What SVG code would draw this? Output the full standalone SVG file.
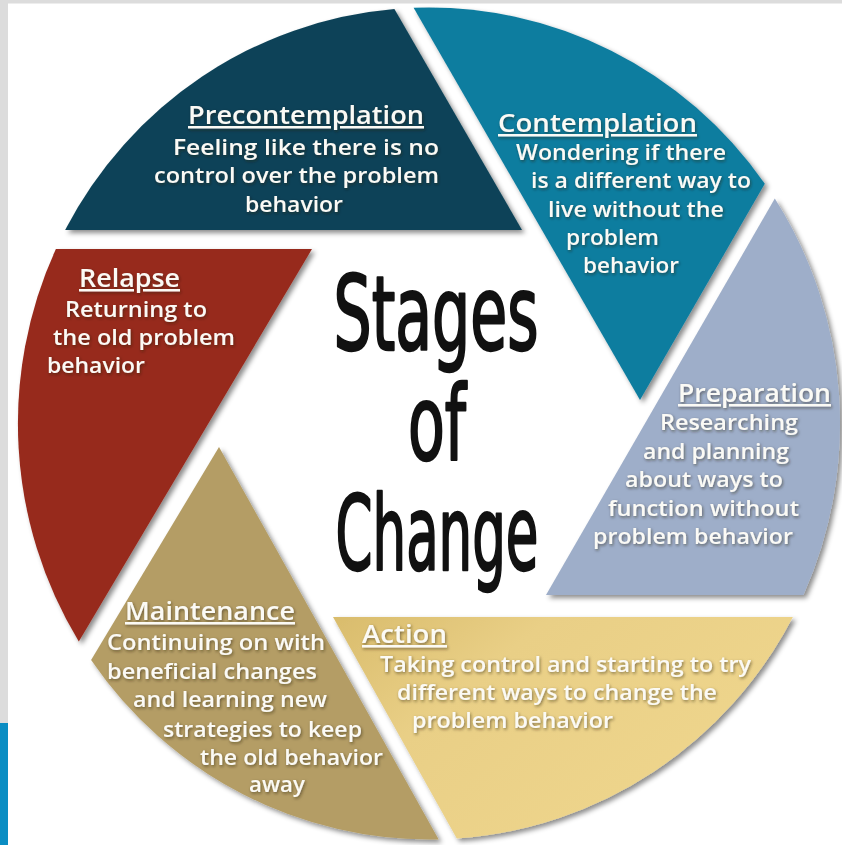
<svg xmlns="http://www.w3.org/2000/svg" width="842" height="845" viewBox="0 0 842 845">
  <defs>
    <style>
      .seg { filter: url(#segShadow); }
      .lbl { font-family: "Open Sans", Lato, "DejaVu Sans", sans-serif; font-weight: 600; fill: #fbfaf5; filter: url(#txtShadow); }
      .head { font-size: 25px; text-decoration: underline; }
      .body { font-size: 22px; }
      .title { font-family: "DejaVu Sans Condensed", "DejaVu Sans", sans-serif; font-weight: 400; font-size: 103px; fill: #111; stroke: #111; stroke-width: 2.4; stroke-linejoin: round; text-anchor: middle; }
    </style>
    <filter id="segShadow" x="-10%" y="-10%" width="125%" height="125%">
      <feDropShadow dx="3" dy="3" stdDeviation="2.5" flood-color="#000" flood-opacity="0.45"/>
    </filter>
    <filter id="txtShadow" x="-10%" y="-30%" width="120%" height="160%">
      <feDropShadow dx="1" dy="1.5" stdDeviation="1.5" flood-color="#2a2410" flood-opacity="0.55"/>
    </filter>
    <linearGradient id="actionFill" x1="0" y1="0" x2="1" y2="0.6">
      <stop offset="0" stop-color="#d9bc6c"/>
      <stop offset="0.35" stop-color="#e9cf86"/>
      <stop offset="1" stop-color="#efd68d"/>
    </linearGradient>
  </defs>

  <!-- page frame -->
  <rect x="0" y="0" width="842" height="845" fill="#ffffff"/>
  <rect x="0" y="0" width="842" height="3.5" fill="#dcdcdc"/>
  <rect x="0" y="0" width="8" height="723" fill="#dcdcdc"/>
  <rect x="0" y="723" width="8" height="122" fill="#0a8dc3"/>

  <!-- Precontemplation -->
  <g id="precontemplation">
    <path class="seg" fill="#0d4358" d="M65.1,230 L522,230 L394.4,9 A411,416 0 0 0 65.1,230 Z"/>
    <text class="lbl head" x="188" y="124" textLength="236" lengthAdjust="spacingAndGlyphs">Precontemplation</text>
    <text class="lbl body" x="173" y="155" textLength="266" lengthAdjust="spacingAndGlyphs">Feeling like there is no</text>
    <text class="lbl body" x="154" y="183" textLength="285" lengthAdjust="spacingAndGlyphs">control over the problem</text>
    <text class="lbl body" x="245" y="212" textLength="98" lengthAdjust="spacingAndGlyphs">behavior</text>
  </g>

  <!-- Contemplation -->
  <g id="contemplation">
    <path class="seg" fill="#117d9f" d="M413.6,7.8 L640,399.9 L764.8,183.8 A411,416 0 0 0 413.6,7.8 Z"/>
    <text class="lbl head" x="498" y="132" textLength="199" lengthAdjust="spacingAndGlyphs">Contemplation</text>
    <text class="lbl body" x="516" y="160" textLength="210" lengthAdjust="spacingAndGlyphs">Wondering if there</text>
    <text class="lbl body" x="531" y="188" textLength="220" lengthAdjust="spacingAndGlyphs">is a different way to</text>
    <text class="lbl body" x="548" y="217" textLength="176" lengthAdjust="spacingAndGlyphs">live without the</text>
    <text class="lbl body" x="566" y="245" textLength="93" lengthAdjust="spacingAndGlyphs">problem</text>
    <text class="lbl body" x="583" y="273" textLength="96" lengthAdjust="spacingAndGlyphs">behavior</text>
  </g>

  <!-- Preparation -->
  <g id="preparation">
    <path class="seg" fill="#9eaec9" d="M774.8,198.5 L546,595 L803.4,595 A411,416 0 0 0 774.8,198.5 Z"/>
    <text class="lbl head" x="678" y="402" textLength="153" lengthAdjust="spacingAndGlyphs">Preparation</text>
    <text class="lbl body" x="660" y="430" textLength="138" lengthAdjust="spacingAndGlyphs">Researching</text>
    <text class="lbl body" x="643" y="459" textLength="146" lengthAdjust="spacingAndGlyphs">and planning</text>
    <text class="lbl body" x="625" y="487" textLength="158" lengthAdjust="spacingAndGlyphs">about ways to</text>
    <text class="lbl body" x="608" y="516" textLength="191" lengthAdjust="spacingAndGlyphs">function without</text>
    <text class="lbl body" x="593" y="544" textLength="200" lengthAdjust="spacingAndGlyphs">problem behavior</text>
  </g>

  <!-- Action -->
  <g id="action">
    <path class="seg" fill="url(#actionFill)" d="M333,617 L792.9,617 A411,416 0 0 1 456.8,838.5 Z"/>
    <text class="lbl head" x="362" y="643" textLength="85" lengthAdjust="spacingAndGlyphs">Action</text>
    <text class="lbl body" x="380" y="672" textLength="371" lengthAdjust="spacingAndGlyphs">Taking control and starting to try</text>
    <text class="lbl body" x="397" y="700" textLength="320" lengthAdjust="spacingAndGlyphs">different ways to change the</text>
    <text class="lbl body" x="412" y="728" textLength="201" lengthAdjust="spacingAndGlyphs">problem behavior</text>
  </g>

  <!-- Maintenance -->
  <g id="maintenance">
    <path class="seg" fill="#b49d65" d="M219,447 L438.7,839.4 A411,416 0 0 1 91.1,660 Z"/>
    <text class="lbl head" x="125" y="620" textLength="170" lengthAdjust="spacingAndGlyphs">Maintenance</text>
    <text class="lbl body" x="107" y="650" textLength="218" lengthAdjust="spacingAndGlyphs">Continuing on with</text>
    <text class="lbl body" x="107" y="679" textLength="210" lengthAdjust="spacingAndGlyphs">beneficial changes</text>
    <text class="lbl body" x="133" y="707" textLength="194" lengthAdjust="spacingAndGlyphs">and learning new</text>
    <text class="lbl body" x="163" y="737" textLength="199" lengthAdjust="spacingAndGlyphs">strategies to keep</text>
    <text class="lbl body" x="200" y="765" textLength="183" lengthAdjust="spacingAndGlyphs">the old behavior</text>
    <text class="lbl body" x="249" y="792" textLength="56" lengthAdjust="spacingAndGlyphs">away</text>
  </g>

  <!-- Relapse -->
  <g id="relapse">
    <path class="seg" fill="#97291b" d="M55.9,249 L312,249 L78.8,641.5 A411,416 0 0 1 55.9,249 Z"/>
    <text class="lbl head" x="79" y="287" textLength="101" lengthAdjust="spacingAndGlyphs">Relapse</text>
    <text class="lbl body" x="65" y="317" textLength="142" lengthAdjust="spacingAndGlyphs">Returning to</text>
    <text class="lbl body" x="53" y="345" textLength="182" lengthAdjust="spacingAndGlyphs">the old problem</text>
    <text class="lbl body" x="47" y="373" textLength="98" lengthAdjust="spacingAndGlyphs">behavior</text>
  </g>

  <!-- centre title -->
  <g id="title">
    <text class="title" x="436" y="350" textLength="205" lengthAdjust="spacingAndGlyphs">Stages</text>
    <text class="title" x="437" y="460" textLength="58" lengthAdjust="spacingAndGlyphs">of</text>
    <text class="title" x="437" y="570" textLength="203" lengthAdjust="spacingAndGlyphs">Change</text>
  </g>
</svg>
